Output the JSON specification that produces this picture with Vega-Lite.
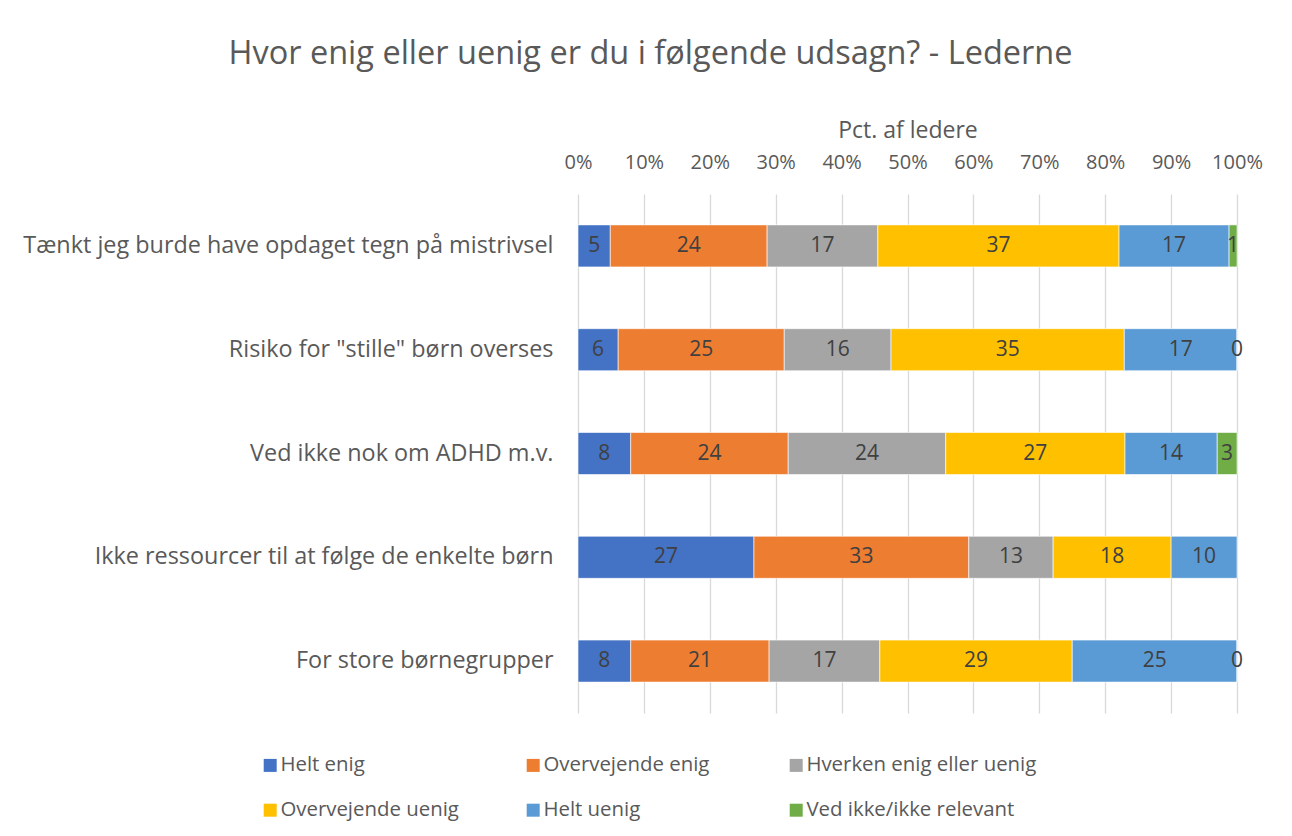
{
  "$schema": "https://vega.github.io/schema/vega-lite/v6.json",
  "autosize": {"type": "none"},
  "width": 659,
  "height": 519,
  "padding": {"left": 578, "top": 194, "right": 55, "bottom": 123},
  "background": "white",
  "title": {
    "text": "Hvor enig eller uenig er du i følgende udsagn? - Lederne",
    "anchor": "middle",
    "frame": "group",
    "dx": -257,
    "offset": 49,
    "fontSize": 32.5,
    "font": "Open Sans",
    "fontWeight": "normal",
    "color": "#595959"
  },
  "config": {
    "view": {"stroke": null},
    "font": "Open Sans"
  },
  "data": {
    "values": [
      {"q": "Tænkt jeg burde have opdaget tegn på mistrivsel", "c": "Helt enig", "k": 1, "v": 4.9},
      {"q": "Tænkt jeg burde have opdaget tegn på mistrivsel", "c": "Overvejende enig", "k": 2, "v": 23.8},
      {"q": "Tænkt jeg burde have opdaget tegn på mistrivsel", "c": "Hverken enig eller uenig", "k": 3, "v": 16.8},
      {"q": "Tænkt jeg burde have opdaget tegn på mistrivsel", "c": "Overvejende uenig", "k": 4, "v": 36.6},
      {"q": "Tænkt jeg burde have opdaget tegn på mistrivsel", "c": "Helt uenig", "k": 5, "v": 16.7},
      {"q": "Tænkt jeg burde have opdaget tegn på mistrivsel", "c": "Ved ikke/ikke relevant", "k": 6, "v": 1.2},
      {"q": "Risiko for \"stille\" børn overses", "c": "Helt enig", "k": 1, "v": 6.1},
      {"q": "Risiko for \"stille\" børn overses", "c": "Overvejende enig", "k": 2, "v": 25.2},
      {"q": "Risiko for \"stille\" børn overses", "c": "Hverken enig eller uenig", "k": 3, "v": 16.2},
      {"q": "Risiko for \"stille\" børn overses", "c": "Overvejende uenig", "k": 4, "v": 35.4},
      {"q": "Risiko for \"stille\" børn overses", "c": "Helt uenig", "k": 5, "v": 17.1},
      {"q": "Risiko for \"stille\" børn overses", "c": "Ved ikke/ikke relevant", "k": 6, "v": 0},
      {"q": "Ved ikke nok om ADHD m.v.", "c": "Helt enig", "k": 1, "v": 8.0},
      {"q": "Ved ikke nok om ADHD m.v.", "c": "Overvejende enig", "k": 2, "v": 23.9},
      {"q": "Ved ikke nok om ADHD m.v.", "c": "Hverken enig eller uenig", "k": 3, "v": 23.9},
      {"q": "Ved ikke nok om ADHD m.v.", "c": "Overvejende uenig", "k": 4, "v": 27.2},
      {"q": "Ved ikke nok om ADHD m.v.", "c": "Helt uenig", "k": 5, "v": 14.0},
      {"q": "Ved ikke nok om ADHD m.v.", "c": "Ved ikke/ikke relevant", "k": 6, "v": 3.0},
      {"q": "Ikke ressourcer til at følge de enkelte børn", "c": "Helt enig", "k": 1, "v": 26.7},
      {"q": "Ikke ressourcer til at følge de enkelte børn", "c": "Overvejende enig", "k": 2, "v": 32.6},
      {"q": "Ikke ressourcer til at følge de enkelte børn", "c": "Hverken enig eller uenig", "k": 3, "v": 12.8},
      {"q": "Ikke ressourcer til at følge de enkelte børn", "c": "Overvejende uenig", "k": 4, "v": 17.9},
      {"q": "Ikke ressourcer til at følge de enkelte børn", "c": "Helt uenig", "k": 5, "v": 10.0},
      {"q": "For store børnegrupper", "c": "Helt enig", "k": 1, "v": 8.0},
      {"q": "For store børnegrupper", "c": "Overvejende enig", "k": 2, "v": 21.0},
      {"q": "For store børnegrupper", "c": "Hverken enig eller uenig", "k": 3, "v": 16.8},
      {"q": "For store børnegrupper", "c": "Overvejende uenig", "k": 4, "v": 29.2},
      {"q": "For store børnegrupper", "c": "Helt uenig", "k": 5, "v": 25.0},
      {"q": "For store børnegrupper", "c": "Ved ikke/ikke relevant", "k": 6, "v": 0}
    ]
  },
  "transform": [
    {"stack": "v", "groupby": ["q"], "sort": [{"field": "k", "order": "ascending"}], "offset": "normalize", "as": ["x0", "x1"]},
    {"calculate": "(datum.x0 + datum.x1) / 2", "as": "xm"}
  ],
  "encoding": {
    "y": {
      "field": "q",
      "type": "nominal",
      "sort": ["Tænkt jeg burde have opdaget tegn på mistrivsel", "Risiko for \"stille\" børn overses", "Ved ikke nok om ADHD m.v.", "Ikke ressourcer til at følge de enkelte børn", "For store børnegrupper"],
      "scale": {"paddingInner": 0.595, "paddingOuter": 0.2975},
      "axis": {
        "title": null,
        "domain": false,
        "ticks": false,
        "labelPadding": 25,
        "labelFontSize": 23.4,
        "labelColor": "#595959",
        "labelLimit": 600,
        "labelFont": "Open Sans"
      }
    }
  },
  "layer": [
    {
      "mark": {"type": "bar", "stroke": "white", "strokeWidth": 0.6},
      "encoding": {
        "x": {
          "field": "x0",
          "type": "quantitative",
          "scale": {"domain": [0, 1]},
          "axis": {
            "orient": "top",
            "title": "Pct. af ledere",
            "titleFontSize": 23,
            "titleFontWeight": "normal",
            "titleColor": "#595959",
            "titleFont": "Open Sans",
            "titlePadding": 10,
            "format": ".0%",
            "values": [0, 0.1, 0.2, 0.3, 0.4, 0.5, 0.6, 0.7, 0.8, 0.9, 1],
            "labelFontSize": 20,
            "labelColor": "#595959",
            "labelFont": "Open Sans",
            "labelPadding": 22,
            "labelFlush": false,
            "domain": false,
            "ticks": false,
            "grid": true,
            "gridColor": "#d9d9d9",
            "gridWidth": 1.3
          }
        },
        "x2": {"field": "x1"},
        "color": {
          "field": "c",
          "type": "nominal",
          "scale": {
            "domain": ["Helt enig", "Overvejende enig", "Hverken enig eller uenig", "Overvejende uenig", "Helt uenig", "Ved ikke/ikke relevant"],
            "range": ["#4472C4", "#ED7D31", "#A5A5A5", "#FFC000", "#5B9BD5", "#70AD47"]
          },
          "legend": {
            "title": null,
            "orient": "none",
            "legendX": -318,
            "legendY": 561,
            "direction": "horizontal",
            "columns": 3,
            "gridAlign": "all",
            "columnPadding": 12,
            "rowPadding": 24,
            "symbolType": "square",
            "symbolSize": 169,
            "symbolStrokeWidth": 0,
            "symbolOpacity": 1,
            "labelFontSize": 20.4,
            "labelColor": "#595959",
            "labelFont": "Open Sans",
            "labelOffset": 0,
            "labelLimit": 400
          }
        }
      }
    },
    {
      "mark": {"type": "text", "fontSize": 21, "color": "#404040", "font": "Open Sans", "baseline": "middle", "align": "center"},
      "encoding": {
        "x": {"field": "xm", "type": "quantitative"},
        "text": {"field": "v", "type": "quantitative", "format": ".0f"}
      }
    }
  ]
}
